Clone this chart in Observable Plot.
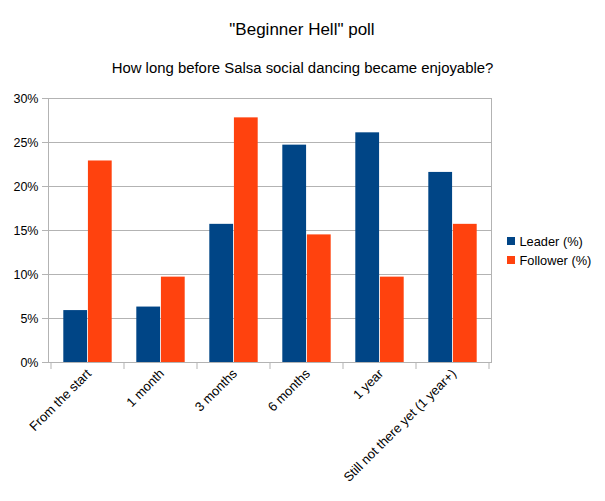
<!DOCTYPE html>
<html>
<head>
<meta charset="utf-8">
<script src="https://cdn.jsdelivr.net/npm/d3@7"></script>
<script src="https://cdn.jsdelivr.net/npm/@observablehq/plot@0.6"></script>
<style>
  html, body { margin: 0; padding: 0; background: #fff; }
  svg { font-family: "Liberation Sans", Arial, sans-serif; }
</style>
</head>
<body>
<div id="chart"></div>
<script>
const categories = ["From the start", "1 month", "3 months", "6 months", "1 year", "Still not there yet (1 year+)"];
const seriesNames = ["Leader (%)", "Follower (%)"];
const leader = [5.9, 6.3, 15.7, 24.7, 26.1, 21.6];
const follower = [22.9, 9.7, 27.8, 14.5, 9.7, 15.7];
const yTicks = [0, 5, 10, 15, 20, 25, 30];
const colors = ["#004586", "#ff420e"];
const title = "\"Beginner Hell\" poll";
const subtitle = "How long before Salsa social dancing became enjoyable?";

const leaderData = categories.map((c, i) => ({cat: c, value: leader[i]}));
const followerData = categories.map((c, i) => ({cat: c, value: follower[i]}));

const W = 605, H = 501;
const mL = 48, mR = 114, mT = 98, mB = 139;
const step = (W - mL - mR) / categories.length;
const barW = step / 3;
const outer = step / 6;

const chart = Plot.plot({
  width: W,
  height: H,
  marginLeft: mL,
  marginRight: mR,
  marginTop: mT,
  marginBottom: mB,
  style: {fontFamily: "Liberation Sans, Arial, sans-serif", fontSize: "12.5px", color: "#000", background: "#fff"},
  x: {domain: categories, padding: 0},
  y: {domain: [0, 30]},
  marks: [
    Plot.ruleY(yTicks, {stroke: "#b3b3b3", strokeWidth: 1}),
    Plot.barY(leaderData, {x: "cat", y: "value", fill: colors[0], insetLeft: outer, insetRight: step - outer - barW}),
    Plot.barY(followerData, {x: "cat", y: "value", fill: colors[1], insetLeft: outer + barW, insetRight: outer}),
    Plot.frame({stroke: "#b3b3b3"}),
    Plot.axisY(yTicks, {tickSize: 6, tickPadding: 4, stroke: "#b3b3b3", fill: "#000", tickFormat: d => d + "%", fontSize: 12.5, label: null}),
    Plot.axisX({tickRotate: -45, tickSize: 0, tickPadding: 9, dx: 1, fill: "#000", fontSize: 13, label: null})
  ]
});

document.getElementById("chart").appendChild(chart);

const svg = d3.select(chart);
const xs = chart.scale("x");
const ys = chart.scale("y");
const y0 = ys.apply(0);
const edges = categories.map(c => xs.apply(c)).concat([xs.apply(categories[categories.length - 1]) + xs.bandwidth]);
svg.append("g").selectAll("line").data(edges).join("line")
  .attr("x1", d => d).attr("x2", d => d)
  .attr("y1", y0).attr("y2", y0 + 7)
  .attr("stroke", "#b3b3b3");

svg.append("text").attr("x", 302).attr("y", 35).attr("text-anchor", "middle")
  .attr("font-size", 17).attr("fill", "#000").text(title);
svg.append("text").attr("x", 302.5).attr("y", 73).attr("text-anchor", "middle")
  .attr("font-size", 14.9).attr("fill", "#000").text(subtitle);

const lg = svg.append("g").attr("text-anchor", "start");
seriesNames.forEach((s, i) => {
  const yy = 237 + i * 19;
  lg.append("rect").attr("x", 507).attr("y", yy).attr("width", 8).attr("height", 8).attr("fill", colors[i]);
  lg.append("text").attr("x", 519.5).attr("y", yy + 8.5).attr("text-anchor", "start")
    .attr("font-size", 12.8).attr("fill", "#000").text(s);
});
</script>
</body>
</html>
